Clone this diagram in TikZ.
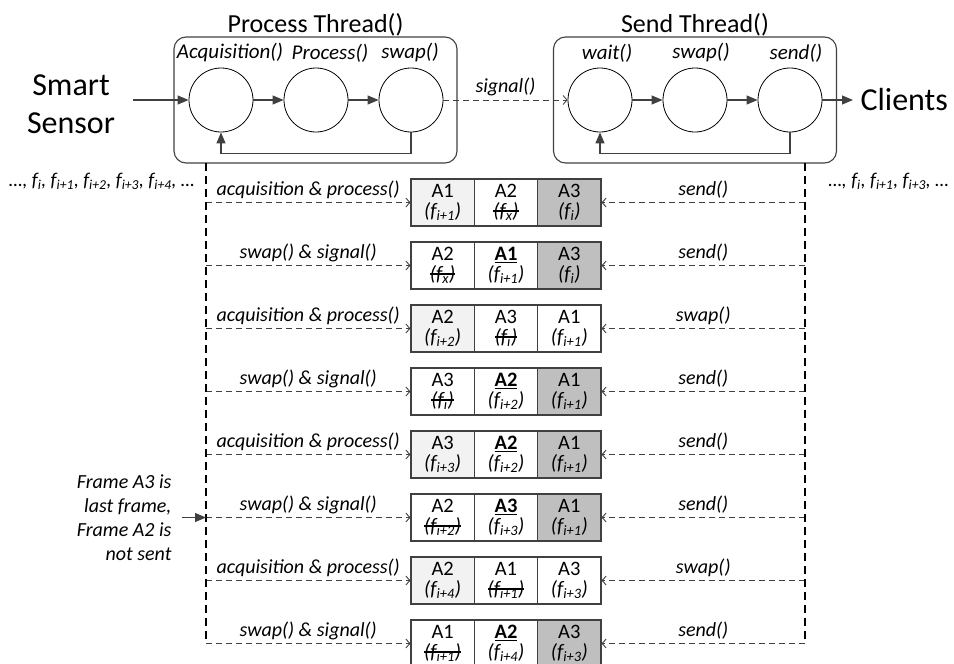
\documentclass[tikz,border=0pt]{standalone}
\usepackage{fontspec}
\setmainfont{Carlito}
\usetikzlibrary{arrows.meta, positioning, calc}

\definecolor{lite}{HTML}{F2F2F2}
\definecolor{dark}{HTML}{BFBFBF}
\definecolor{ln}{HTML}{404040}

\newsavebox{\strikebox}
\newcommand{\fri}[1]{\textit{(f\textsubscript{#1})}}
\newcommand{\frx}[1]{\sbox{\strikebox}{\fri{#1}}\rlap{\raisebox{.28em}{\rule{\wd\strikebox}{.07em}}}\usebox{\strikebox}}
\newcommand{\curframe}[1]{\underline{\textbf{#1}}}

\begin{document}
\begin{tikzpicture}[x=1pt, y=-1pt,
    thread/.style={draw=ln, line width=1.1pt, rounded corners=12pt, minimum width=283pt, minimum height=126pt},
    stage/.style={draw=black, line width=0.8pt, circle, minimum size=64pt, inner sep=0pt},
    push/.style={draw=ln, line width=1.1pt, -{Triangle[length=11pt,width=9pt]}},
    msg/.style={draw=ln, line width=0.9pt, dash pattern=on 6pt off 4pt, -{Straight Barb[length=4pt,width=9pt]}},
    vline/.style={draw=black, line width=1.1pt, dash pattern=on 8pt off 5pt},
    cell/.style={draw=ln, line width=1.1pt, minimum width=63.33pt, minimum height=47pt, inner sep=0pt, align=center, font=\fontsize{20.5}{19.5}\selectfont},
    big/.style={font=\fontsize{32}{38}\selectfont},
    title/.style={font=\fontsize{26}{30}\selectfont},
    fn/.style={font=\fontsize{21}{24}\selectfont\itshape},
    lbl/.style={font=\fontsize{20}{24}\selectfont\itshape},
    seq/.style={font=\fontsize{19.5}{22}\selectfont\itshape}]
\useasboundingbox (0,0) rectangle (954,664);

% threads
\node[thread] (pbox) at (315.5,100) {};
\node[thread] (sbox) at (695,100) {};
\node[title, above=-3pt of pbox] (ptitle) {Process Thread()};
\node[title, above=-3pt of sbox] (stitle) {Send Thread()};

\node[stage] (p1) at (221,100) {};
\node[stage] (p2) at (316,100) {};
\node[stage] (p3) at (411,100) {};
\node[stage] (s1) at (600,100) {};
\node[stage] (s2) at (695,100) {};
\node[stage] (s3) at (790,100) {};

\node[fn] at (230,53) {Acquisition()};
\node[fn] at (330,53) {Process()};
\node[fn] at (410,53) {swap()};
\node[fn] at (607,53) {wait()};
\node[fn] at (701,53) {swap()};
\node[fn] at (796,53) {send()};

\node[big, align=center] (sensor) at (71,104) {Smart\\Sensor};
\coordinate (sin) at (133,100);
\node[big, anchor=west] (clients) at (857,100) {Clients};

\draw[push] (sin) -- (p1);
\draw[push] (p1) -- (p2);
\draw[push] (p2) -- (p3);
\draw[push] (p3.south) -- ++(0,21) -| (p1.south);
\draw[push] (s1) -- (s2);
\draw[push] (s2) -- (s3);
\draw[push] (s3.south) -- ++(0,21) -| (s1.south);
\draw[push, shorten >=4pt] (s3) -- (clients.west);
\draw[msg] (p3) -- node[above, lbl] {signal()} (s1);

\node[seq, anchor=east] (inseq) at (198,181) {…, f\textsubscript{i}, f\textsubscript{i+1}, f\textsubscript{i+2}, f\textsubscript{i+3}, f\textsubscript{i+4}, …};
\node[seq, anchor=west] (outseq) at (825,181) {…, f\textsubscript{i}, f\textsubscript{i+1}, f\textsubscript{i+3}, …};

% frame buffers, one row per step
\foreach \r/\lft/\rgt/\fa/\ta/\fb/\tb/\fc/\tc in {
  1/{acquisition \& process()}/{send()}/lite/{A1\\\fri{i+1}}/white/{A2\\\frx{x}}/dark/{A3\\\fri{i}},
  2/{swap() \& signal()}/{send()}/white/{A2\\\frx{x}}/white/{\curframe{A1}\\\fri{i+1}}/dark/{A3\\\fri{i}},
  3/{acquisition \& process()}/{swap()}/lite/{A2\\\fri{i+2}}/white/{A3\\\frx{i}}/white/{A1\\\fri{i+1}},
  4/{swap() \& signal()}/{send()}/white/{A3\\\frx{i}}/white/{\curframe{A2}\\\fri{i+2}}/dark/{A1\\\fri{i+1}},
  5/{acquisition \& process()}/{send()}/lite/{A3\\\fri{i+3}}/white/{\curframe{A2}\\\fri{i+2}}/dark/{A1\\\fri{i+1}},
  6/{swap() \& signal()}/{send()}/white/{A2\\\frx{i+2}}/white/{\curframe{A3}\\\fri{i+3}}/dark/{A1\\\fri{i+1}},
  7/{acquisition \& process()}/{swap()}/lite/{A2\\\fri{i+4}}/white/{A1\\\frx{i+1}}/white/{A3\\\fri{i+3}},
  8/{swap() \& signal()}/{send()}/white/{A1\\\frx{i+1}}/white/{\curframe{A2}\\\fri{i+4}}/dark/{A3\\\fri{i+3}}} {
    \pgfmathsetmacro{\ym}{139.5+63*\r}
    \node[cell, fill=\fa] (a\r) at (442.67,\ym) {\ta};
    \node[cell, fill=\fb] (b\r) at (506,\ym) {\tb};
    \node[cell, fill=\fc] (c\r) at (569.33,\ym) {\tc};
    \coordinate (l\r) at (206,\ym);
    \coordinate (r\r) at (805,\ym);
    \draw[msg] (l\r) -- node[above, lbl] {\lft} (a\r.west);
    \draw[msg] (r\r) -- node[above, lbl] {\rgt} (c\r.east);
}

\draw[vline] (206,163) -- (l8);
\draw[vline] (805,163) -- (r8);

\node[lbl, align=right, anchor=east] (note) at (175,517.5) {Frame A3 is\\last frame,\\Frame A2 is\\not sent};
\draw[push] ([xshift=7pt]note.east) -- (l6);
\end{tikzpicture}
\end{document}
